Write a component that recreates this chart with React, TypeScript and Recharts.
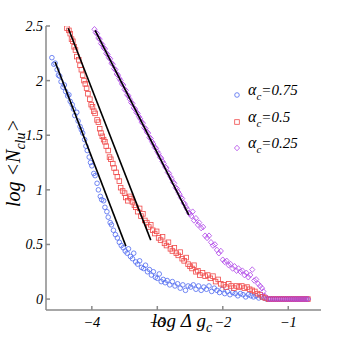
import React from 'react';
import { ScatterChart, Scatter, XAxis, YAxis } from 'recharts';

type Pt = [number, number];

const xTicks = [-4, -3, -2, -1];
const yTicks = [0, 0.5, 1, 1.5, 2, 2.5];
const seriesNames = ['0.75', '0.5', '0.25'];

// alpha_c = 0.75
const blueRaw: Pt[] = [
  [-4.61, 2.21], [-4.58, 2.15], [-4.56, 2.16], [-4.53, 2.1], [-4.51, 2.05], [-4.49, 2.04], [-4.47, 1.99],
  [-4.44, 1.94], [-4.42, 1.96], [-4.4, 1.9], [-4.37, 1.86], [-4.35, 1.87], [-4.33, 1.81], [-4.3, 1.78],
  [-4.28, 1.74], [-4.26, 1.68], [-4.23, 1.71], [-4.21, 1.63], [-4.18, 1.58], [-4.16, 1.55], [-4.14, 1.52],
  [-4.11, 1.46], [-4.09, 1.4], [-4.07, 1.36], [-4.04, 1.3], [-4.02, 1.25], [-4.0, 1.22], [-3.97, 1.15],
  [-3.95, 1.13], [-3.92, 1.06], [-3.9, 1.0], [-3.87, 0.94], [-3.85, 0.91], [-3.82, 0.9], [-3.8, 0.84],
  [-3.77, 0.8], [-3.75, 0.75], [-3.72, 0.7], [-3.7, 0.68], [-3.67, 0.63], [-3.64, 0.59], [-3.61, 0.56],
  [-3.58, 0.52], [-3.55, 0.49], [-3.52, 0.47], [-3.49, 0.44], [-3.46, 0.42], [-3.44, 0.46], [-3.41, 0.39],
  [-3.38, 0.37], [-3.36, 0.42], [-3.33, 0.34], [-3.3, 0.32], [-3.27, 0.35], [-3.24, 0.29], [-3.21, 0.28],
  [-3.18, 0.31], [-3.15, 0.25], [-3.12, 0.27], [-3.09, 0.22], [-3.06, 0.25], [-3.03, 0.2], [-3.0, 0.19],
  [-2.97, 0.23], [-2.94, 0.16], [-2.91, 0.18], [-2.88, 0.15], [-2.85, 0.17], [-2.81, 0.13], [-2.77, 0.16],
  [-2.73, 0.12], [-2.69, 0.14], [-2.65, 0.1], [-2.61, 0.13], [-2.57, 0.08], [-2.53, 0.12], [-2.49, 0.11],
  [-2.45, 0.13], [-2.41, 0.09], [-2.37, 0.12], [-2.33, 0.08], [-2.29, 0.11], [-2.25, 0.09], [-2.21, 0.12],
  [-2.17, 0.07], [-2.13, 0.1], [-2.09, 0.08], [-2.05, 0.06], [-2.01, 0.09], [-1.97, 0.05], [-1.93, 0.07],
  [-1.89, 0.04], [-1.85, 0.06], [-1.81, 0.05], [-1.77, 0.03], [-1.73, 0.05], [-1.69, 0.04], [-1.65, 0.02],
  [-1.61, 0.04], [-1.57, 0.03], [-1.53, 0.02], [-1.49, 0.03], [-1.45, 0.01], [-1.41, 0.02], [-1.37, 0.01],
  [-1.33, 0],
];

// alpha_c = 0.5
const redRaw: Pt[] = [
  [-4.38, 2.48], [-4.35, 2.46], [-4.33, 2.43], [-4.31, 2.38], [-4.29, 2.36], [-4.27, 2.31], [-4.25, 2.28],
  [-4.23, 2.22], [-4.2, 2.19], [-4.18, 2.14], [-4.16, 2.1], [-4.14, 2.05], [-4.12, 2.0], [-4.1, 1.97],
  [-4.08, 1.93], [-4.06, 1.88], [-4.03, 1.83], [-4.01, 1.78], [-3.99, 1.76], [-3.97, 1.72], [-3.95, 1.7],
  [-3.92, 1.64], [-3.9, 1.62], [-3.88, 1.56], [-3.86, 1.52], [-3.84, 1.49], [-3.82, 1.46], [-3.8, 1.44],
  [-3.78, 1.4], [-3.75, 1.36], [-3.73, 1.3], [-3.71, 1.28], [-3.68, 1.24], [-3.66, 1.2], [-3.63, 1.16],
  [-3.61, 1.12], [-3.58, 1.08], [-3.56, 1.02], [-3.53, 0.99], [-3.5, 0.97], [-3.48, 0.93], [-3.45, 0.9],
  [-3.42, 0.94], [-3.4, 0.92], [-3.38, 0.89], [-3.35, 0.86], [-3.33, 0.84], [-3.3, 0.8], [-3.27, 0.83],
  [-3.25, 0.76], [-3.22, 0.78], [-3.19, 0.72], [-3.16, 0.7], [-3.13, 0.66], [-3.1, 0.68], [-3.07, 0.63],
  [-3.04, 0.6], [-3.01, 0.62], [-2.98, 0.56], [-2.95, 0.54], [-2.92, 0.57], [-2.89, 0.51], [-2.86, 0.49],
  [-2.83, 0.52], [-2.8, 0.46], [-2.77, 0.44], [-2.74, 0.47], [-2.71, 0.42], [-2.68, 0.4], [-2.65, 0.43],
  [-2.62, 0.37], [-2.59, 0.35], [-2.56, 0.38], [-2.53, 0.32], [-2.5, 0.3], [-2.47, 0.28], [-2.44, 0.31],
  [-2.41, 0.25], [-2.38, 0.26], [-2.35, 0.22], [-2.31, 0.24], [-2.27, 0.21], [-2.23, 0.22], [-2.19, 0.19],
  [-2.15, 0.21], [-2.11, 0.16], [-2.07, 0.18], [-2.03, 0.14], [-1.99, 0.13], [-1.95, 0.11], [-1.91, 0.14],
  [-1.87, 0.12], [-1.83, 0.1], [-1.79, 0.12], [-1.75, 0.11], [-1.71, 0.12], [-1.67, 0.1], [-1.63, 0.11],
  [-1.59, 0.09], [-1.55, 0.08], [-1.51, 0.07], [-1.47, 0.05], [-1.43, 0.04], [-1.39, 0.02], [-1.35, 0.01],
];

// alpha_c = 0.25
const purpleRaw: Pt[] = [
  [-3.96, 2.47], [-3.94, 2.44], [-3.92, 2.43], [-3.9, 2.39], [-3.88, 2.38], [-3.86, 2.34], [-3.84, 2.33],
  [-3.82, 2.3], [-3.8, 2.29], [-3.78, 2.25], [-3.76, 2.24], [-3.74, 2.21], [-3.72, 2.2], [-3.7, 2.16],
  [-3.68, 2.15], [-3.66, 2.11], [-3.64, 2.1], [-3.62, 2.06], [-3.6, 2.05], [-3.58, 2.02], [-3.56, 2.0],
  [-3.54, 1.97], [-3.52, 1.96], [-3.5, 1.92], [-3.48, 1.91], [-3.46, 1.87], [-3.44, 1.86], [-3.42, 1.83],
  [-3.4, 1.8], [-3.38, 1.79], [-3.36, 1.75], [-3.34, 1.74], [-3.32, 1.71], [-3.3, 1.7], [-3.28, 1.67],
  [-3.26, 1.65], [-3.24, 1.62], [-3.22, 1.61], [-3.2, 1.57], [-3.18, 1.56], [-3.16, 1.53], [-3.14, 1.52],
  [-3.12, 1.48], [-3.1, 1.47], [-3.08, 1.44], [-3.06, 1.42], [-3.04, 1.39], [-3.02, 1.38], [-3.0, 1.35],
  [-2.98, 1.33], [-2.96, 1.3], [-2.94, 1.29], [-2.92, 1.26], [-2.9, 1.24], [-2.88, 1.21], [-2.86, 1.2],
  [-2.84, 1.16], [-2.82, 1.15], [-2.8, 1.12], [-2.78, 1.1], [-2.76, 1.07], [-2.74, 1.06], [-2.72, 1.02],
  [-2.7, 1.01], [-2.68, 0.98], [-2.66, 0.96], [-2.64, 0.93], [-2.62, 0.92], [-2.6, 0.88], [-2.58, 0.87],
  [-2.56, 0.84], [-2.54, 0.82], [-2.52, 0.79], [-2.5, 0.78], [-2.48, 0.76], [-2.46, 0.8], [-2.44, 0.72],
  [-2.41, 0.74], [-2.38, 0.68], [-2.36, 0.7], [-2.33, 0.65], [-2.3, 0.66], [-2.27, 0.58], [-2.24, 0.56],
  [-2.21, 0.58], [-2.18, 0.52], [-2.15, 0.49], [-2.12, 0.5], [-2.09, 0.45], [-2.06, 0.42], [-2.03, 0.44],
  [-2.0, 0.36], [-1.97, 0.34], [-1.94, 0.35], [-1.91, 0.31], [-1.88, 0.32], [-1.85, 0.28], [-1.82, 0.3],
  [-1.79, 0.26], [-1.76, 0.28], [-1.73, 0.25], [-1.7, 0.26], [-1.67, 0.22], [-1.64, 0.24], [-1.61, 0.2],
  [-1.58, 0.22], [-1.55, 0.27], [-1.52, 0.17], [-1.49, 0.18], [-1.46, 0.14], [-1.43, 0.12], [-1.4, 0.1],
  [-1.38, 0.07], [-1.36, 0.03],
];

// all three collapse onto zero here
const tailRaw: Pt[] = [
  [-1.3, 0], [-1.27, 0], [-1.24, 0], [-1.21, 0], [-1.18, 0], [-1.15, 0], [-1.12, 0], [-1.09, 0],
  [-1.06, 0], [-1.03, 0], [-1.0, 0], [-0.97, 0], [-0.94, 0], [-0.91, 0], [-0.88, 0], [-0.85, 0],
  [-0.82, 0], [-0.79, 0], [-0.76, 0], [-0.73, 0], [-0.7, 0],
];

// power-law fits
const blueFit: Pt[] = [[-4.56, 2.17], [-3.48, 0.485]];
const redFit: Pt[] = [[-4.36, 2.48], [-3.1, 0.54]];
const purpleFit: Pt[] = [[-3.95, 2.46], [-2.52, 0.77]];

const toPts = (arr: Pt[]) => arr.map(([x, y]) => ({ x, y }));

const BLUE = '#4f6af0';
const RED = '#f04a4a';
const PURPLE = '#b048e8';
const AXIS = '#8a8a8a';
const SERIF = 'Liberation Serif, DejaVu Serif, serif';

const Circle = (p: any) => <circle cx={p.cx} cy={p.cy} r={2.3} fill="none" stroke={BLUE} strokeWidth={0.8} />;
const Square = (p: any) => <rect x={p.cx - 2.3} y={p.cy - 2.3} width={4.6} height={4.6} fill="none" stroke={RED} strokeWidth={0.8} />;
const Diamond = (p: any) => (
  <path d={`M${p.cx},${p.cy - 2.8}L${p.cx + 2.6},${p.cy}L${p.cx},${p.cy + 2.8}L${p.cx - 2.6},${p.cy}Z`} fill="none" stroke={PURPLE} strokeWidth={0.8} />
);
const NoDot = () => <g />;

const xTickStyle = { fontFamily: SERIF, fontStyle: 'italic', fontSize: 14.5, fill: '#000' };
const yTickStyle = { fontFamily: SERIF, fontStyle: 'italic', fontSize: 14, fill: '#000' };

export default function App() {
  const legend = [
    { name: seriesNames[0], mark: <circle cx={237} cy={95} r={2.3} fill="none" stroke={BLUE} strokeWidth={0.8} />, y: 95 },
    { name: seriesNames[1], mark: <rect x={234.7} y={119.7} width={4.6} height={4.6} fill="none" stroke={RED} strokeWidth={0.8} />, y: 122 },
    { name: seriesNames[2], mark: <path d="M237,145.2L239.6,148L237,150.8L234.4,148Z" fill="none" stroke={PURPLE} strokeWidth={0.8} />, y: 148 },
  ];

  return (
    <div style={{ position: 'absolute', left: 0, top: 0, width: 354, height: 349, background: '#fff', fontFamily: SERIF }}>
      <ScatterChart width={354} height={349} margin={{ top: 26, right: 33, left: 0, bottom: 0 }} style={{ fontFamily: SERIF }}>
        <XAxis
          type="number" dataKey="x" domain={[-4.7, -0.5]} ticks={xTicks} allowDataOverflow
          height={39} stroke={AXIS} strokeWidth={1.5} tickSize={-4} tickMargin={11}
          tick={xTickStyle} tickFormatter={(v: number) => `${v < 0 ? '\u2212' : ''}${Math.abs(v)}`}
        />
        <XAxis
          xAxisId="top" orientation="top" type="number" dataKey="x" domain={[-4.7, -0.5]} ticks={xTicks}
          allowDataOverflow height={0} stroke={AXIS} strokeWidth={1.5} tickSize={-4} tick={false}
        />
        <YAxis
          type="number" dataKey="y" domain={[-0.1, 2.5]} ticks={yTicks} allowDataOverflow
          width={46} stroke={AXIS} strokeWidth={1.5} tickSize={-4} tickMargin={7} tick={yTickStyle}
        />
        <YAxis
          yAxisId="right" orientation="right" type="number" dataKey="y" domain={[-0.1, 2.5]} ticks={yTicks}
          allowDataOverflow width={0} stroke={AXIS} strokeWidth={1.5} tickSize={-4} tick={false}
        />
        <Scatter data={toPts(blueRaw.concat(tailRaw))} shape={Circle} isAnimationActive={false} />
        <Scatter data={toPts(redRaw.concat(tailRaw))} shape={Square} isAnimationActive={false} />
        <Scatter data={toPts(purpleRaw.concat(tailRaw))} shape={Diamond} isAnimationActive={false} />
        <Scatter data={toPts(blueFit)} shape={NoDot} line={{ stroke: '#000', strokeWidth: 1.6 }} isAnimationActive={false} />
        <Scatter data={toPts(redFit)} shape={NoDot} line={{ stroke: '#000', strokeWidth: 1.6 }} isAnimationActive={false} />
        <Scatter data={toPts(purpleFit)} shape={NoDot} line={{ stroke: '#000', strokeWidth: 1.6 }} isAnimationActive={false} />
      </ScatterChart>
      <svg width={354} height={349} style={{ position: 'absolute', left: 0, top: 0, pointerEvents: 'none' }}>
        <g style={{ fontFamily: SERIF, fontStyle: 'italic' }} fill="#000">
          {legend.map((l) => (
            <g key={l.name}>
              {l.mark}
              <text x={248} y={l.y} fontSize={16}>
                α<tspan fontSize={11} dy={5}>c</tspan>
                <tspan dy={-5} fontSize={15}>={l.name}</tspan>
              </text>
            </g>
          ))}
          <text transform="translate(20,163) rotate(-90)" textAnchor="middle" fontSize={20}>
            log &lt;N<tspan fontSize={14} dy={5}>clu</tspan><tspan dy={-5}>&gt;</tspan>
          </text>
          <text x={182} y={327} textAnchor="middle" fontSize={19}>
            log Δ g<tspan fontSize={14} dy={5}>c</tspan>
          </text>
        </g>
      </svg>
    </div>
  );
}
